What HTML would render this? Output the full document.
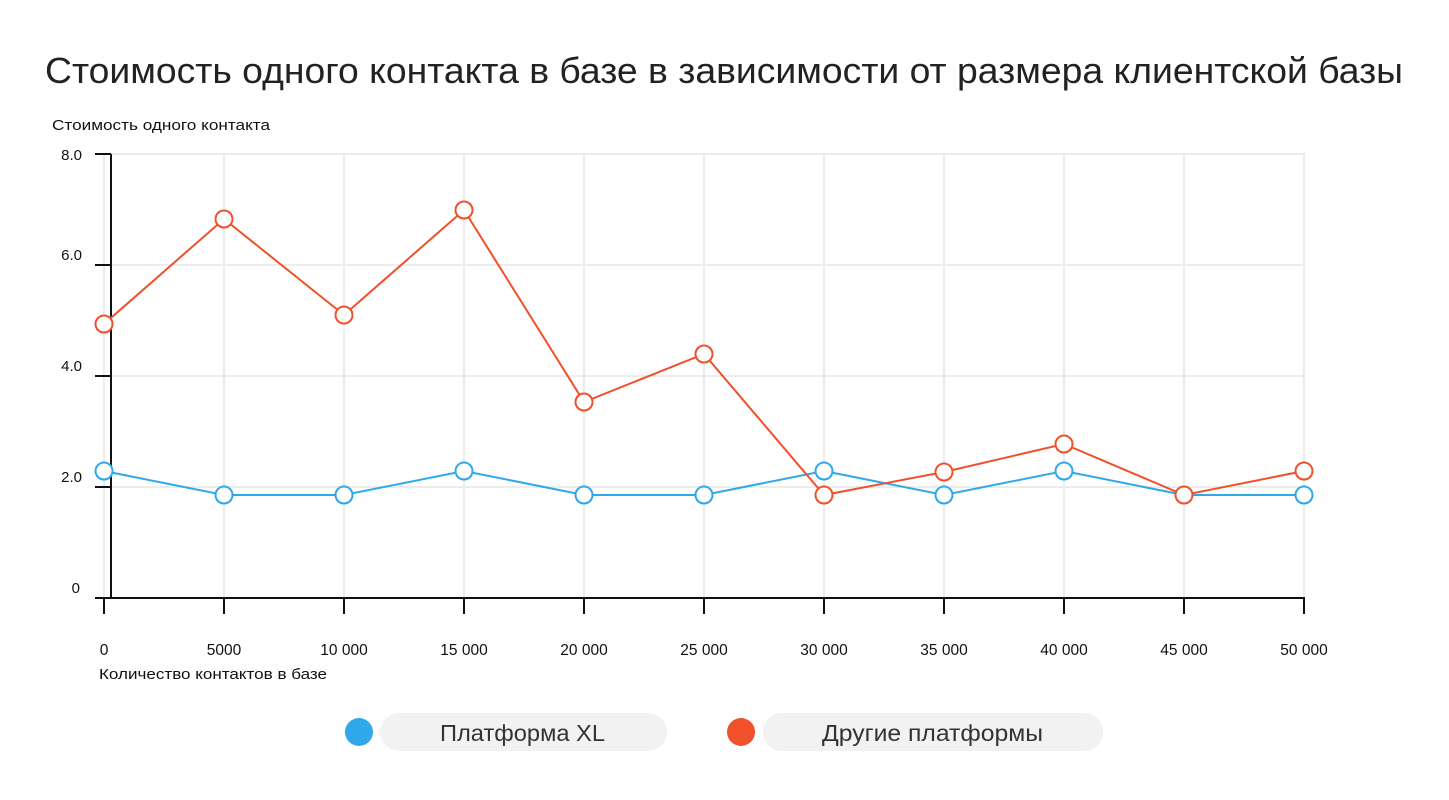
<!DOCTYPE html>
<html><head><meta charset="utf-8"><style>
html,body{margin:0;padding:0;background:#fff;}
svg text{font-family:"Liberation Sans",sans-serif;}
</style></head><body>
<svg width="1449" height="795" xmlns="http://www.w3.org/2000/svg">
<text x="45" y="83" font-size="36" fill="#222" textLength="1358" lengthAdjust="spacingAndGlyphs">Стоимость одного контакта в базе в зависимости от размера клиентской базы</text>
<text x="52" y="130" font-size="15" fill="#111" textLength="218" lengthAdjust="spacingAndGlyphs">Стоимость одного контакта</text>
<g stroke="#ececec" stroke-width="2">
<line x1="111" y1="154" x2="1305" y2="154"/><line x1="111" y1="265" x2="1305" y2="265"/>
<line x1="111" y1="376" x2="1305" y2="376"/><line x1="111" y1="487" x2="1305" y2="487"/>
<line x1="104" y1="154" x2="104" y2="598"/><line x1="224" y1="154" x2="224" y2="598"/><line x1="344" y1="154" x2="344" y2="598"/><line x1="464" y1="154" x2="464" y2="598"/><line x1="584" y1="154" x2="584" y2="598"/><line x1="704" y1="154" x2="704" y2="598"/><line x1="824" y1="154" x2="824" y2="598"/><line x1="944" y1="154" x2="944" y2="598"/><line x1="1064" y1="154" x2="1064" y2="598"/><line x1="1184" y1="154" x2="1184" y2="598"/><line x1="1304" y1="154" x2="1304" y2="598"/>
</g>
<g stroke="#111" stroke-width="2">
<line x1="111" y1="154" x2="111" y2="599"/><line x1="95" y1="598" x2="1305" y2="598"/>
<line x1="95" y1="154" x2="111" y2="154"/><line x1="95" y1="265" x2="111" y2="265"/><line x1="95" y1="376" x2="111" y2="376"/><line x1="95" y1="487" x2="111" y2="487"/>
<line x1="104" y1="598" x2="104" y2="614"/><line x1="224" y1="598" x2="224" y2="614"/><line x1="344" y1="598" x2="344" y2="614"/><line x1="464" y1="598" x2="464" y2="614"/><line x1="584" y1="598" x2="584" y2="614"/><line x1="704" y1="598" x2="704" y2="614"/><line x1="824" y1="598" x2="824" y2="614"/><line x1="944" y1="598" x2="944" y2="614"/><line x1="1064" y1="598" x2="1064" y2="614"/><line x1="1184" y1="598" x2="1184" y2="614"/><line x1="1304" y1="598" x2="1304" y2="614"/>
</g>
<g font-size="15" fill="#111" text-anchor="end">
<text x="82" y="160">8.0</text><text x="82" y="260">6.0</text><text x="82" y="371">4.0</text><text x="82" y="482">2.0</text><text x="80" y="593">0</text>
</g>
<g font-size="15.5" fill="#111" text-anchor="middle">
<text x="104" y="655">0</text><text x="224" y="655">5000</text><text x="344" y="655">10 000</text><text x="464" y="655">15 000</text><text x="584" y="655">20 000</text><text x="704" y="655">25 000</text><text x="824" y="655">30 000</text><text x="944" y="655">35 000</text><text x="1064" y="655">40 000</text><text x="1184" y="655">45 000</text><text x="1304" y="655">50 000</text>
</g>
<text x="99" y="679" font-size="15" fill="#111" textLength="228" lengthAdjust="spacingAndGlyphs">Количество контактов в базе</text>
<g fill="#fff" stroke-width="2">
<polyline fill="none" stroke="#2fa9ea" points="104,471 224,495 344,495 464,471 584,495 704,495 824,471 944,495 1064,471 1184,495 1304,495"/>
<polyline fill="none" stroke="#f0502a" points="104,324 224,219 344,315 464,210 584,402 704,354 824,495 944,472 1064,444 1184,495 1304,471"/>
<g stroke="#2fa9ea"><circle cx="104" cy="471" r="8.5"/><circle cx="224" cy="495" r="8.5"/><circle cx="344" cy="495" r="8.5"/><circle cx="464" cy="471" r="8.5"/><circle cx="584" cy="495" r="8.5"/><circle cx="704" cy="495" r="8.5"/><circle cx="824" cy="471" r="8.5"/><circle cx="944" cy="495" r="8.5"/><circle cx="1064" cy="471" r="8.5"/><circle cx="1304" cy="495" r="8.5"/></g>
<g stroke="#f0502a"><circle cx="104" cy="324" r="8.5"/><circle cx="224" cy="219" r="8.5"/><circle cx="344" cy="315" r="8.5"/><circle cx="464" cy="210" r="8.5"/><circle cx="584" cy="402" r="8.5"/><circle cx="704" cy="354" r="8.5"/><circle cx="824" cy="495" r="8.5"/><circle cx="944" cy="472" r="8.5"/><circle cx="1064" cy="444" r="8.5"/><circle cx="1184" cy="495" r="8.5"/><circle cx="1304" cy="471" r="8.5"/></g>
</g>
<circle cx="359" cy="732" r="14" fill="#2fa9ea"/>
<rect x="380" y="713" width="287" height="38" rx="19" fill="#f2f2f2"/>
<text x="440" y="741" font-size="23" fill="#333" textLength="165" lengthAdjust="spacingAndGlyphs">Платформа XL</text>
<circle cx="741" cy="732" r="14" fill="#f0502a"/>
<rect x="763" y="713" width="340" height="38" rx="19" fill="#f2f2f2"/>
<text x="822" y="741" font-size="23" fill="#333" textLength="221" lengthAdjust="spacingAndGlyphs">Другие платформы</text>
</svg>
</body></html>
